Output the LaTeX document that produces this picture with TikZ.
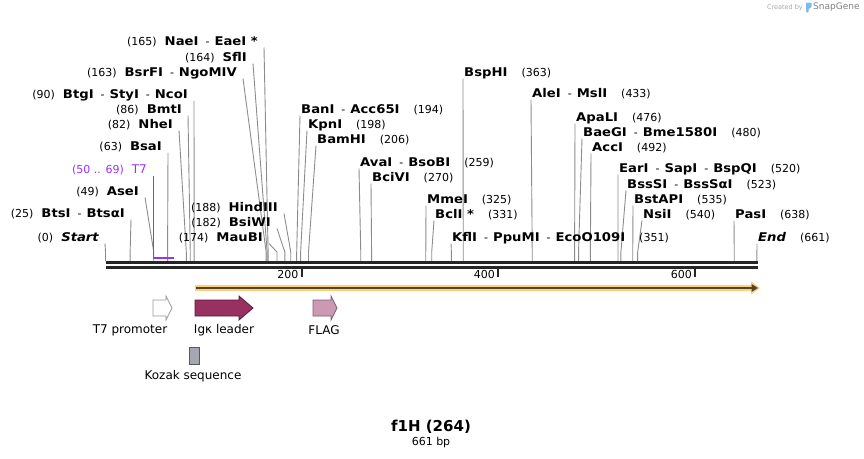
\documentclass[tikz,border=0pt]{standalone}
\usepackage{fontspec}
\setmainfont{DejaVu Sans}
\newfontfamily\enzfont{DejaVu Sans}[FakeStretch=1.1]
\usetikzlibrary{arrows.meta}

\definecolor{sitegray}{RGB}{140,140,140}
\definecolor{tsevenpurple}{RGB}{155,48,255}
\definecolor{igkred}{RGB}{153,48,98}
\definecolor{igkdark}{RGB}{90,25,55}
\definecolor{flagpink}{RGB}{204,153,180}
\definecolor{flagdark}{RGB}{120,95,110}
\definecolor{kozakgray}{RGB}{165,168,176}
\definecolor{orfpale}{RGB}{253,208,125}
\definecolor{orfdark}{RGB}{85,68,45}
\definecolor{logoblue}{RGB}{120,190,235}

\newcommand{\enz}[1]{{\enzfont\bfseries\fontsize{12}{14}\selectfont #1}}
\newcommand{\lgap}{\hspace{8pt}}
\newcommand{\rgap}{\hspace{14pt}}
\newcommand{\dgap}{\hspace{7pt}-\hspace{5pt}}

\begin{document}
\begin{tikzpicture}[x=1pt,y=-1pt,
  lbl/.style={inner sep=0pt,font=\fontsize{11}{13}\selectfont},
  leftlbl/.style={lbl,anchor=base east},
  rightlbl/.style={lbl,anchor=base west},
  featlbl/.style={inner sep=0pt,font=\fontsize{12}{14}\selectfont},
  cutline/.style={draw=sitegray,line width=0.9pt},
  backbone/.style={line width=3.2pt,black!85},
  feat/.style={line width=0.8pt,line join=miter}]
\useasboundingbox (0,0) rectangle (864,458);

% sites with the label on the left
\foreach \n/\bp/\xe/\yc/\txt in {
  Nae/165/258/41/{(165)\lgap\enz{NaeI}\dgap\enz{EaeI *}},
  Sfl/164/247/57/{(164)\lgap\enz{SflI}},
  BsrF/163/237/72/{(163)\lgap\enz{BsrFI}\dgap\enz{NgoMIV}},
  Btg/90/188/94/{(90)\lgap\enz{BtgI}\dgap\enz{StyI}\dgap\enz{NcoI}},
  Bmt/86/182/109/{(86)\lgap\enz{BmtI}},
  Nhe/82/173/124/{(82)\lgap\enz{NheI}},
  Bsa/63/162/146/{(63)\lgap\enz{BsaI}},
  Ase/49/139/191/{(49)\lgap\enz{AseI}},
  Bts/25/125/213/{(25)\lgap\enz{BtsI}\dgap\enz{BtsαI}},
  Start/0/99/237/{(0)\lgap\enz{\itshape Start}},
  Hind/188/278/207/{(188)\lgap\enz{HindIII}},
  BsiW/182/271/222/{(182)\lgap\enz{BsiWI}},
  MauB/174/263/237/{(174)\lgap\enz{MauBI}}}{
  \node[leftlbl] (l\n) at (\xe,\yc+4) {\txt};
  \coordinate (s\n) at ({105.5+0.9855*\bp},261);
  \draw[cutline] (l\n.base east) ++(6pt,-2.5pt) -- ([yshift=9pt]s\n) -- (s\n);
}

% sites with the label on the right
\foreach \n/\bp/\xs/\yc/\txt in {
  BspH/363/464/72/{\enz{BspHI}\rgap(363)},
  Ale/433/532/93/{\enz{AleI}\dgap\enz{MslI}\rgap(433)},
  Ban/194/301/109/{\enz{BanI}\dgap\enz{Acc65I}\rgap(194)},
  ApaL/476/576/117/{\enz{ApaLI}\rgap(476)},
  Kpn/198/308/124/{\enz{KpnI}\rgap(198)},
  BaeG/480/583/132/{\enz{BaeGI}\dgap\enz{Bme1580I}\rgap(480)},
  BamH/206/317/139/{\enz{BamHI}\rgap(206)},
  Acc/492/592/147/{\enz{AccI}\rgap(492)},
  Ava/259/360/162/{\enz{AvaI}\dgap\enz{BsoBI}\rgap(259)},
  Ear/520/619/168/{\enz{EarI}\dgap\enz{SapI}\dgap\enz{BspQI}\rgap(520)},
  BciV/270/372/177/{\enz{BciVI}\rgap(270)},
  BssS/523/627/184/{\enz{BssSI}\dgap\enz{BssSαI}\rgap(523)},
  Mme/325/427/199/{\enz{MmeI}\rgap(325)},
  BstAP/535/634/199/{\enz{BstAPI}\rgap(535)},
  Bcl/331/435/214/{\enz{BclI *}\rgap(331)},
  Nsi/540/643/214/{\enz{NsiI}\rgap(540)},
  Pas/638/735/214/{\enz{PasI}\rgap(638)},
  Kfl/351/452/237/{\enz{KflI}\dgap\enz{PpuMI}\dgap\enz{EcoO109I}\rgap(351)},
  End/661/758/237/{\enz{\itshape End}\rgap(661)}}{
  \node[rightlbl] (l\n) at (\xs,\yc+4) {\txt};
  \coordinate (s\n) at ({105.5+0.9855*\bp},261);
  \draw[cutline] (l\n.base west) ++(-1pt,-2.5pt) -- ([yshift=9pt]s\n) -- (s\n);
}

% T7 primer site
\node[leftlbl,text=tsevenpurple] (lT7) at (147,173) {(50 .. 69)\lgap{\fontsize{12}{14}\selectfont T7}};
\coordinate (sT7) at ({105.5+0.9855*69},258);
\draw[tsevenpurple,line width=1.6pt] (lT7.base east) ++(6.5pt,-3pt) |- (sT7);

% backbone and ruler
\coordinate (bb0) at (105.5,262.6);
\coordinate (bb1) at (758,262.6);
\draw[backbone] (bb0) -- (bb1);
\draw[backbone] ([yshift=-4.7pt]bb0) -- ([yshift=-4.7pt]bb1);
\foreach \t/\x in {200/301.5,400/498,600/695}{
  \draw[line width=2pt,black!85] (\x,268) -- (\x,276.5);
  \node[lbl,anchor=east] (tick\t) at (\x-3,274) {\t};
}

% ORF
\coordinate (orf0) at (194.5,288);
\coordinate (orf1) at (760,288);
\draw[orfpale,line width=6.5pt,-{Triangle[length=9pt,width=13pt]}] (orf0) -- (orf1);
\draw[orfdark,line width=2.2pt,-{Triangle[length=6.5pt,width=7.5pt]}] ([xshift=1pt]orf0) -- ([xshift=-2pt]orf1);

% features
\draw[feat,draw=gray!80,fill=white] (153,300) -- (166,300) -- (166,296) -- (172,308) -- (166,320) -- (166,316) -- (153,316) -- cycle;
\draw[feat,draw=igkdark,fill=igkred] (195,300) -- (239,300) -- (239,296) -- (253,308) -- (239,320) -- (239,316) -- (195,316) -- cycle;
\draw[feat,draw=flagdark,fill=flagpink] (313,300) -- (331,300) -- (331,296) -- (337,308) -- (331,320) -- (331,316) -- (313,316) -- cycle;
\draw[feat,draw=black!65,fill=kozakgray] (189,347) rectangle (199,364);
\node[featlbl] (t7lbl) at (130,330) {T7 promoter};
\node[featlbl] (igklbl) at (224,330) {Igκ leader};
\node[featlbl] (flaglbl) at (324,330) {FLAG};
\node[featlbl] (kozaklbl) at (193,376) {Kozak sequence};

% title
\node[font=\bfseries\fontsize{15}{17}\selectfont] (title) at (431,427) {f1H (264)};
\node[lbl] (len) at (431,442) {661 bp};

% credit
\node[inner sep=0pt,font=\fontsize{6.5}{8}\selectfont,text=black!35,anchor=east] (credit) at (803,7.5) {Created by};
\fill[logoblue,rounded corners=1pt] (806,2.5) -- (811.5,2.5) -- (811.5,7.5) -- (808.7,8.5) -- (808.7,12.5) -- (806,12.5) -- cycle;
\node[inner sep=0pt,font=\fontsize{9}{10}\selectfont,text=black!50,anchor=west] (brand) at (813,7.5) {SnapGene};
\end{tikzpicture}
\end{document}
